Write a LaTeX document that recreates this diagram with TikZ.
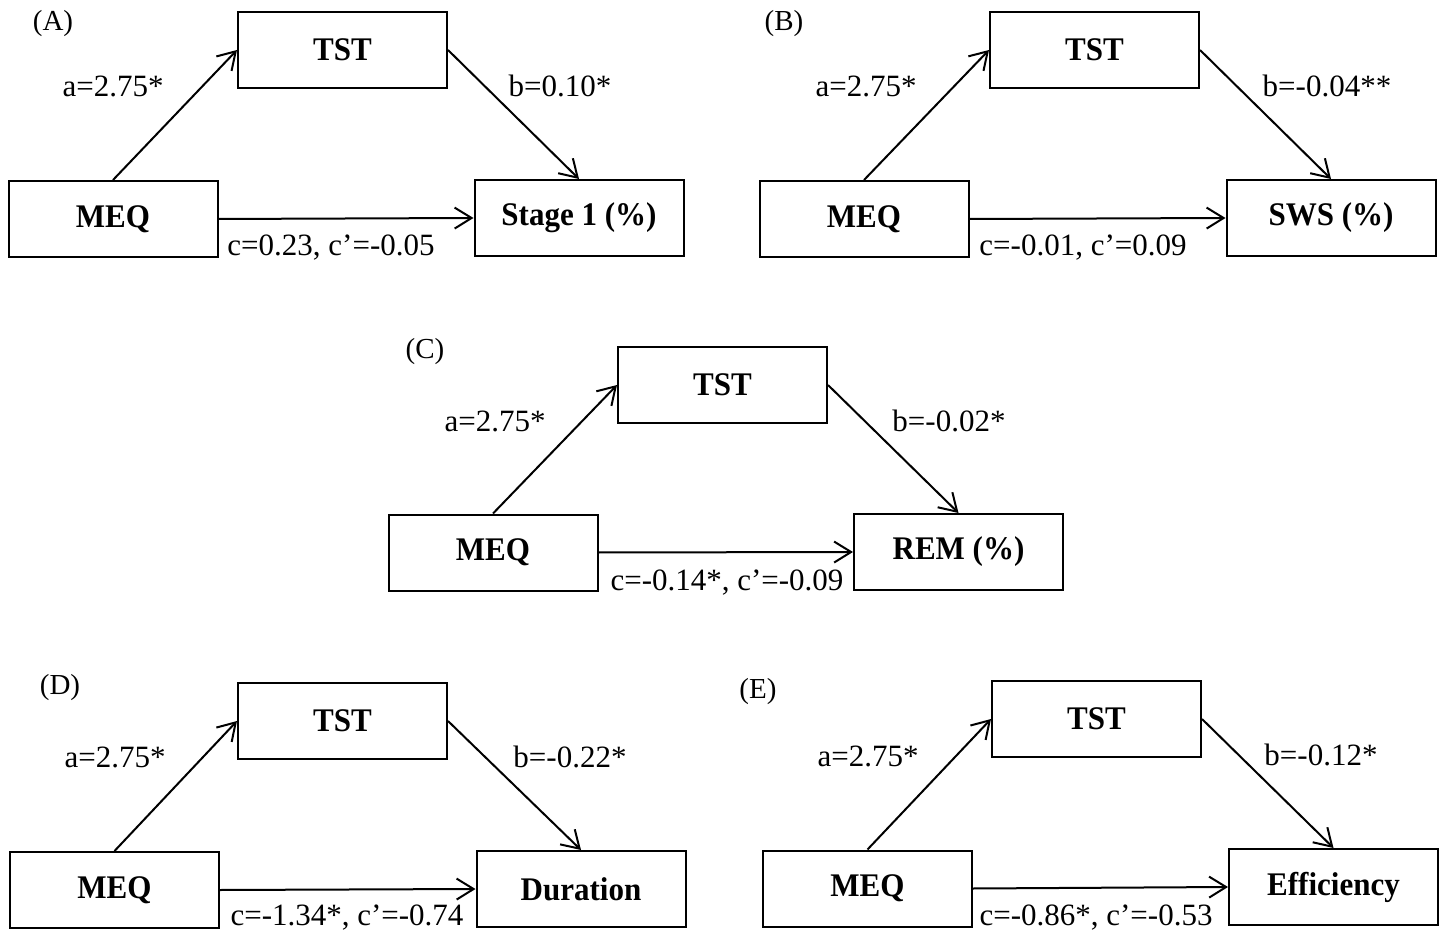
\documentclass[tikz,border=0pt]{standalone}
\usepackage{fontspec}
\setmainfont{Liberation Serif}
\newfontfamily\boxfont{Liberation Serif}[FakeStretch=0.94]
\usetikzlibrary{arrows.meta}
\tikzset{
  varbox/.style={draw, line width=1pt, minimum width=104.5pt, minimum height=38pt, inner sep=0pt, font=\boxfont\fontsize{16.5}{19}\selectfont\bfseries},
  coef/.style={anchor=base, inner sep=0pt, font=\fontsize{15.5}{18}\selectfont},
  panel/.style={inner sep=0pt, font=\fontsize{14.5}{17}\selectfont},
  path/.style={line width=1pt, -{Straight Barb[length=8.5pt,width=10.5pt,line width=1pt]}}
}
\begin{document}
\begin{tikzpicture}[x=0.5pt,y=-0.5pt]
\useasboundingbox (0,0) rectangle (1440,930);
% Panel A
\node[panel] (labA) at (53,24) {(A)};
\node[varbox] (tstA) at (342.5,50) {TST};
\node[varbox] (meqA) at (113,219) {MEQ};
\node[varbox] (yA) at (579,218) {Stage 1 (\%)};
\draw[path] (meqA.north) -- (tstA.west);
\draw[path] (tstA.east) -- (yA.north);
\draw[path] (meqA.east) -- (yA.west);
\node[coef] (aA) at (113,97) {a=2.75*};
\node[coef] (bA) at (560,97) {b=0.10*};
\node[coef] (cA) at (331,256) {c=0.23, c’=-0.05};
% Panel B
\node[panel] (labB) at (784,24) {(B)};
\node[varbox] (tstB) at (1094.5,50) {TST};
\node[varbox] (meqB) at (864,219) {MEQ};
\node[varbox] (yB) at (1331,218) {SWS (\%)};
\draw[path] (meqB.north) -- (tstB.west);
\draw[path] (tstB.east) -- (yB.north);
\draw[path] (meqB.east) -- (yB.west);
\node[coef] (aB) at (866,97) {a=2.75*};
\node[coef] (bB) at (1327,97) {b=-0.04**};
\node[coef] (cB) at (1083,256) {c=-0.01, c’=0.09};
% Panel C
\node[panel] (labC) at (425,352) {(C)};
\node[varbox] (tstC) at (722.5,385) {TST};
\node[varbox] (meqC) at (493,552.5) {MEQ};
\node[varbox] (yC) at (958.5,552) {REM (\%)};
\draw[path] (meqC.north) -- (tstC.west);
\draw[path] (tstC.east) -- (yC.north);
\draw[path] (meqC.east) -- (yC.west);
\node[coef] (aC) at (495,431) {a=2.75*};
\node[coef] (bC) at (949,431) {b=-0.02*};
\node[coef] (cC) at (727,590) {c=-0.14*, c’=-0.09};
% Panel D
\node[panel] (labD) at (60,688) {(D)};
\node[varbox] (tstD) at (342.5,721) {TST};
\node[varbox] (meqD) at (114.5,890) {MEQ};
\node[varbox] (yD) at (581,889) {Duration};
\draw[path] (meqD.north) -- (tstD.west);
\draw[path] (tstD.east) -- (yD.north);
\draw[path] (meqD.east) -- (yD.west);
\node[coef] (aD) at (115,767) {a=2.75*};
\node[coef] (bD) at (570,767) {b=-0.22*};
\node[coef] (cD) at (347,925) {c=-1.34*, c’=-0.74};
% Panel E
\node[panel] (labE) at (758,692) {(E)};
\node[varbox] (tstE) at (1096.5,719) {TST};
\node[varbox] (meqE) at (867.5,888.5) {MEQ};
\node[varbox] (yE) at (1333.5,887) {Efficiency};
\draw[path] (meqE.north) -- (tstE.west);
\draw[path] (tstE.east) -- (yE.north);
\draw[path] (meqE.east) -- (yE.west);
\node[coef] (aE) at (868,766) {a=2.75*};
\node[coef] (bE) at (1321,765) {b=-0.12*};
\node[coef] (cE) at (1096,925) {c=-0.86*, c’=-0.53};
\end{tikzpicture}
\end{document}
